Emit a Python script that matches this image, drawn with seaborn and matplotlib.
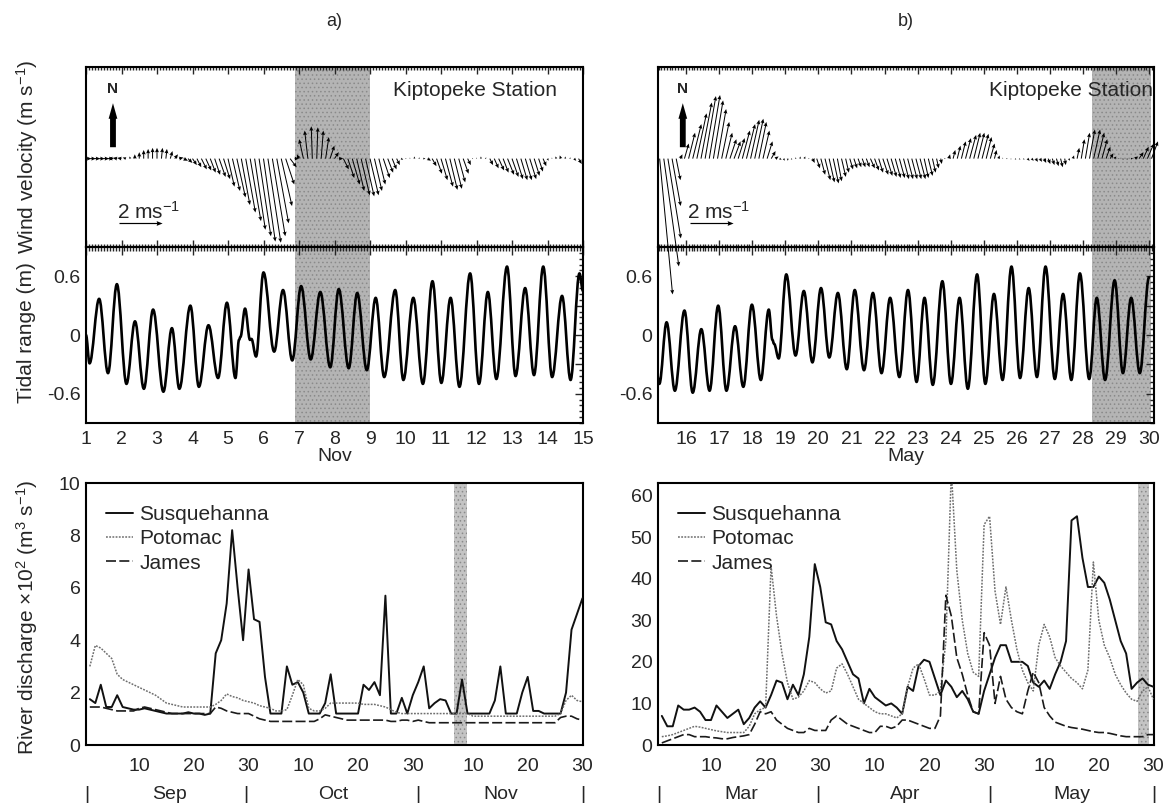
import numpy as np
import pandas as pd
import matplotlib
matplotlib.use("Agg")
import matplotlib.pyplot as plt
from matplotlib.path import Path
from matplotlib.patches import PathPatch, FancyArrowPatch
from matplotlib.ticker import MultipleLocator, FixedLocator, FixedFormatter, NullLocator
from matplotlib.transforms import blended_transform_factory
import seaborn as sns

sns.set_theme(style="white")
plt.rcParams["font.family"] = ["Liberation Sans", "DejaVu Sans"]
plt.rcParams["mathtext.fontset"] = "custom"
plt.rcParams["mathtext.rm"] = "Liberation Sans"
plt.rcParams["mathtext.it"] = "Liberation Sans:italic"
plt.rcParams["mathtext.bf"] = "Liberation Sans:bold"
plt.rcParams["hatch.linewidth"] = 0.6

# ---------------------------------------------------------------- data
# Wind at Kiptopeke, 3-hourly samples (east u, north v; m/s)
WIND_A_T0 = 1.0          # 1 Nov
WIND_A_U = [0.25, 0.25, 0.25, 0.25, 0.25, 0.25, -0.2, -0.2,
            -0.2, -0.15, -0.05, 0.0, 0.0, 0.0, 0.0, 0.0,
            0.0, 0.05, 0.05, 0.1, 0.15, 0.2, 0.2, 0.2,
            0.2, 0.2, 0.25, 0.25, 0.25, 0.25, 0.3, 0.3,
            0.3, 0.35, 0.4, 0.4, 0.45, 0.5, 0.5, 0.55,
            0.55, 0.6, 0.6, 0.55, 0.5, 0.4, 0.3, 0.2,
            -0.1, -0.2, -0.15, -0.05, 0.05, 0.1, 0.15, 0.2,
            0.2, 0.2, 0.25, 0.3, 0.35, 0.35, 0.4, 0.4,
            0.4, 0.35, 0.3, 0.3, 0.25, 0.2, 0.15, 0.1,
            0.05, 0.0, 0.0, 0.05, 0.1, 0.15, 0.2, 0.25,
            0.3, 0.35, 0.35, 0.35, 0.3, 0.25, 0.15, 0.05,
            0.0, 0.0, 0.05, 0.15, 0.2, 0.25, 0.25, 0.3,
            0.3, 0.3, 0.3, 0.3, 0.3, 0.25, 0.2, 0.15,
            0.05, 0.0, -0.05, -0.05, 0.0, 0.05, 0.1, 0.15,
            0.2]
WIND_A_V = [0.0, 0.0, 0.0, 0.0, 0.0, 0.0, 0.02, 0.03,
            0.03, 0.05, 0.1, 0.2, 0.3, 0.4, 0.45, 0.5,
            0.5, 0.5, 0.45, 0.35, 0.2, 0.05, -0.1, -0.2,
            -0.3, -0.4, -0.5, -0.55, -0.65, -0.75, -0.85, -0.95,
            -1.3, -1.5, -1.8, -2.15, -2.5, -2.9, -3.3, -3.6,
            -3.85, -3.9, -3.6, -3.0, -2.2, -1.2, -0.4, 0.0,
            0.2, 0.9, 1.3, 1.5, 1.45, 1.3, 1.0, 0.6,
            0.3, 0.0, -0.5, -0.9, -1.2, -1.5, -1.7, -1.75,
            -1.7, -1.5, -1.2, -0.9, -0.65, -0.5, -0.3, -0.05,
            0.0, 0.05, 0.1, 0.05, 0.0, -0.1, -0.35, -0.7,
            -1.0, -1.3, -1.45, -1.4, -1.1, -0.7, -0.3, 0.0,
            0.05, 0.1, 0.05, -0.3, -0.45, -0.55, -0.65, -0.75,
            -0.85, -0.95, -1.0, -1.0, -0.95, -0.8, -0.6, -0.35,
            -0.1, 0.05, 0.1, 0.15, 0.1, 0.05, -0.1, -0.25,
            -0.4]

WIND_B_T0 = 15.2         # 15 May
WIND_B_U = [0.6, 0.7, 0.6, 0.4, 0.2, 0.1,
            0.2, 0.3, 0.4, 0.45, 0.5, 0.5, 0.5, 0.45,
            0.4, 0.35, 0.3, 0.3, 0.3, 0.3, 0.35, 0.4,
            0.4, 0.4, 0.35, 0.3, 0.25, 0.2, 0.15, 0.1,
            0.05, 0.0, -0.05, -0.05, 0.0, 0.05, 0.05, 0.1,
            0.15, 0.2, 0.25, 0.25, 0.25, 0.2, 0.2, 0.15,
            0.15, 0.15, 0.15, 0.15, 0.15, 0.2, 0.2, 0.2,
            0.25, 0.25, 0.25, 0.25, 0.25, 0.25, 0.25, 0.25,
            0.25, 0.25, 0.2, 0.2, 0.15, 0.1, 0.05, 0.0,
            0.05, 0.1, 0.15, 0.2, 0.25, 0.3, 0.3, 0.3,
            0.3, 0.25, 0.2, 0.1, 0.05, 0.0, 0.0, 0.0,
            0.05, 0.05, 0.05, 0.1, 0.1, 0.1, 0.1, 0.1,
            0.1, 0.1, 0.1, 0.1, 0.05, 0.05, 0.05, 0.1,
            0.15, 0.2, 0.25, 0.3, 0.3, 0.25, 0.2, 0.15,
            0.1, 0.05, 0.05, 0.05, 0.1, 0.15, 0.2, 0.25,
            0.3, 0.3]
WIND_B_V = [-6.3, -5.0, -3.7, -2.2, -1.0, 0.2,
            0.7, 1.2, 1.6, 2.1, 2.6, 2.9, 2.95, 2.7,
            2.3, 1.7, 1.2, 0.9, 0.8, 0.95, 1.3, 1.6,
            1.8, 1.85, 1.7, 1.3, 0.8, 0.35, 0.1, -0.05,
            -0.1, -0.1, -0.05, 0.05, 0.1, 0.1, 0.0, -0.2,
            -0.45, -0.75, -1.0, -1.1, -1.15, -1.05, -0.85, -0.65,
            -0.5, -0.45, -0.4, -0.4, -0.4, -0.45, -0.55, -0.65,
            -0.75, -0.8, -0.85, -0.9, -0.9, -0.95, -0.95, -0.95,
            -0.95, -0.95, -0.9, -0.8, -0.65, -0.45, -0.25, 0.0,
            0.2, 0.4, 0.6, 0.8, 0.95, 1.1, 1.2, 1.2,
            1.15, 1.0, 0.7, 0.4, 0.15, 0.05, 0.0, -0.05,
            -0.05, -0.05, -0.05, -0.1, -0.1, -0.15, -0.15, -0.2,
            -0.25, -0.3, -0.35, -0.4, -0.3, -0.1, 0.15, 0.5,
            0.9, 1.2, 1.35, 1.35, 1.2, 0.9, 0.55, 0.25,
            0.1, 0.0, -0.05, -0.05, 0.0, 0.1, 0.3, 0.55,
            0.7, 0.8]

# Water level: successive high / low waters (day of month, m)
TIDE_A_T = [1.00, 1.10, 1.37, 1.62, 1.87, 2.14, 2.38, 2.63, 2.89, 3.18,
            3.42, 3.63, 3.94, 4.18, 4.45, 4.72, 4.97, 5.21, 5.31, 5.35,
            5.48, 5.62, 5.66, 5.79, 6.00, 6.30, 6.55, 6.81, 7.06, 7.33,
            7.60, 7.88, 8.12, 8.40, 8.64, 8.91, 9.16, 9.40, 9.71, 9.94,
            10.22, 10.49, 10.76, 11.01, 11.27, 11.52, 11.82, 12.07, 12.32, 12.56,
            12.86, 13.10, 13.37, 13.62, 13.88, 14.13, 14.41, 14.65, 14.90, 15.00]
TIDE_A_H = [0.00, -0.29, 0.37, -0.39, 0.52, -0.50, 0.14, -0.55, 0.26, -0.58,
            0.07, -0.55, 0.30, -0.53, 0.10, -0.44, 0.33, -0.44, -0.05, -0.02,
            0.27, -0.05, -0.04, -0.22, 0.64, -0.17, 0.46, -0.26, 0.50, -0.25,
            0.44, -0.33, 0.47, -0.34, 0.43, -0.36, 0.38, -0.43, 0.46, -0.46,
            0.38, -0.50, 0.55, -0.49, 0.38, -0.53, 0.63, -0.50, 0.44, -0.45,
            0.70, -0.42, 0.48, -0.41, 0.70, -0.43, 0.40, -0.46, 0.63, 0.45]
TIDE_B_T = [15.12, 15.19, 15.41, 15.66, 15.95, 16.20, 16.46, 16.71, 16.97, 17.22,
            17.48, 17.73, 17.99, 18.26, 18.50, 18.61, 18.66, 18.80, 19.03, 19.31,
            19.56, 19.82, 20.08, 20.33, 20.59, 20.86, 21.10, 21.38, 21.65, 21.91,
            22.17, 22.45, 22.71, 22.97, 23.21, 23.46, 23.75, 24.01, 24.27, 24.52,
            24.80, 25.05, 25.31, 25.57, 25.84, 26.10, 26.36, 26.61, 26.87, 27.15,
            27.40, 27.65, 27.91, 28.19, 28.42, 28.67, 28.96, 29.21, 29.46, 29.72,
            30.00]
TIDE_B_H = [-0.40, -0.50, 0.13, -0.57, 0.25, -0.59, 0.06, -0.57, 0.30, -0.57,
            0.09, -0.53, 0.31, -0.46, 0.26, -0.05, -0.09, -0.24, 0.62, -0.21,
            0.45, -0.28, 0.48, -0.23, 0.43, -0.35, 0.46, -0.36, 0.43, -0.39,
            0.38, -0.43, 0.46, -0.48, 0.38, -0.51, 0.55, -0.50, 0.38, -0.55,
            0.62, -0.50, 0.42, -0.46, 0.70, -0.44, 0.48, -0.43, 0.70, -0.45,
            0.42, -0.46, 0.63, -0.45, 0.38, -0.46, 0.56, -0.39, 0.38, -0.39,
            0.59]

EVENT_A = (6.9, 9.0)
EVENT_B = (28.27, 30.05)
DAYS_A = list(range(1, 16))
DAYS_B = list(range(16, 31))

# Daily river discharge, day 1 = first day of the three-month window
Q_DAY = list(range(1, 92))
QA_SUSQ = [1.75, 1.6, 2.3, 1.45, 1.45, 1.9, 1.45, 1.4, 1.35, 1.35,
           1.4, 1.35, 1.3, 1.25, 1.2, 1.2, 1.2, 1.2, 1.25, 1.2,
           1.2, 1.15, 1.2, 3.5, 4.0, 5.4, 8.2, 6.0, 4.0, 6.7,
           4.8, 4.7, 2.6, 1.2, 1.2, 1.2, 3.0, 2.3, 2.4, 2.0,
           1.2, 1.2, 1.2, 1.6, 2.7, 1.2, 1.2, 1.2, 1.2, 1.2,
           2.3, 2.1, 2.4, 1.9, 5.7, 1.2, 1.2, 1.8, 1.2, 1.9,
           2.4, 3.0, 1.4, 1.6, 1.75, 1.7, 1.2, 1.2, 2.5, 1.2,
           1.2, 1.2, 1.2, 1.2, 1.7, 3.0, 1.2, 1.2, 1.2, 2.0,
           2.6, 1.3, 1.3, 1.2, 1.2, 1.2, 1.2, 2.0, 4.4, 5.0,
           5.6]
QA_POTO = [3.0, 3.8, 3.7, 3.5, 3.3, 2.7, 2.5, 2.4, 2.3, 2.2,
           2.1, 2.0, 1.9, 1.75, 1.6, 1.55, 1.5, 1.45, 1.45, 1.45,
           1.45, 1.45, 1.45, 1.55, 1.7, 1.95, 1.85, 1.8, 1.7, 1.65,
           1.6, 1.5, 1.45, 1.4, 1.3, 1.3, 1.35, 1.9, 2.5, 2.3,
           1.4, 1.3, 1.3, 1.4, 1.6, 1.6, 1.6, 1.6, 1.6, 1.6,
           1.55, 1.55, 1.55, 1.5, 1.45, 1.35, 1.25, 1.2, 1.2, 1.2,
           1.2, 1.2, 1.2, 1.2, 1.2, 1.2, 1.2, 1.2, 1.2, 1.2,
           1.1, 1.1, 1.1, 1.1, 1.1, 1.1, 1.1, 1.1, 1.1, 1.1,
           1.1, 1.1, 1.1, 1.1, 1.1, 1.1, 1.2, 1.7, 1.9, 1.7,
           1.65]
QA_JAMES = [1.45, 1.45, 1.45, 1.4, 1.35, 1.3, 1.3, 1.3, 1.3, 1.4,
            1.45, 1.4, 1.35, 1.3, 1.25, 1.2, 1.2, 1.2, 1.2, 1.2,
            1.2, 1.2, 1.2, 1.45, 1.4, 1.3, 1.25, 1.2, 1.2, 1.2,
            1.1, 1.0, 0.95, 0.9, 0.9, 0.9, 0.9, 0.9, 0.9, 0.9,
            0.9, 0.9, 1.0, 1.15, 1.1, 1.05, 1.0, 0.95, 0.95, 0.95,
            0.95, 0.95, 0.95, 0.95, 0.95, 0.9, 0.9, 0.95, 0.95, 0.9,
            0.95, 0.9, 0.85, 0.85, 0.85, 0.85, 0.85, 0.85, 0.85, 0.85,
            0.85, 0.85, 0.85, 0.85, 0.85, 0.85, 0.85, 0.85, 0.85, 0.85,
            0.85, 0.85, 0.85, 0.85, 0.85, 0.85, 1.05, 1.1, 1.1, 1.0,
            0.95]
QB_SUSQ = [7.0, 4.5, 4.5, 9.5, 8.5, 8.5, 9.0, 8.0, 6.0, 6.0,
           9.5, 8.0, 6.5, 7.5, 8.5, 5.0, 6.5, 9.0, 10.5, 9.0,
           12.0, 15.5, 15.0, 11.0, 14.5, 12.0, 17.0, 26.0, 43.5, 38.0,
           29.5, 29.0, 25.0, 23.0, 20.0, 17.0, 16.0, 10.0, 13.5, 11.5,
           10.5, 9.5, 10.0, 9.0, 7.5, 14.0, 13.0, 19.0, 20.5, 20.0,
           16.0, 12.0, 15.5, 14.0, 11.5, 13.0, 11.0, 8.0, 7.5, 13.0,
           17.0, 21.0, 24.0, 24.0, 20.0, 20.0, 20.0, 19.0, 15.0, 14.0,
           15.5, 13.5, 17.0, 20.0, 25.0, 54.0, 55.0, 45.0, 38.0, 38.0,
           40.5, 39.0, 35.0, 30.0, 25.0, 22.0, 13.5, 15.0, 16.0, 14.5,
           14.0]
QB_POTO = [2.0, 2.2, 2.5, 3.0, 3.5, 4.0, 4.5, 4.3, 4.0, 3.7,
           3.4, 3.2, 3.0, 3.0, 3.0, 3.0, 4.5, 7.5, 8.5, 9.0,
           43.0, 31.0, 22.0, 15.0, 11.0, 11.5, 13.0, 15.5, 15.0, 13.5,
           12.5, 13.0, 18.5, 19.5, 17.0, 14.0, 11.0, 10.0, 9.0, 8.0,
           7.5, 7.5, 7.0, 6.5, 7.5, 14.0, 18.5, 19.5, 16.0, 12.0,
           12.0, 13.0, 25.0, 66.0, 42.0, 30.0, 22.0, 17.5, 16.5, 53.0,
           55.0, 37.0, 29.0, 38.0, 30.0, 23.0, 18.0, 15.0, 13.0, 24.0,
           29.0, 26.0, 21.0, 19.0, 17.5, 16.0, 15.0, 13.5, 18.0, 44.0,
           30.0, 24.0, 21.0, 17.0, 14.5, 12.5, 11.0, 10.5, 13.0, 14.0,
           11.0]
QB_JAMES = [0.5, 1.0, 1.5, 2.0, 2.5, 2.5, 2.0, 2.0, 2.0, 1.8,
            1.7, 1.5, 1.5, 1.8, 2.0, 2.2, 2.5, 5.0, 8.0, 7.5,
            8.0, 6.0, 5.0, 4.0, 3.5, 3.0, 3.0, 4.0, 3.5, 3.5,
            3.5, 6.0, 7.0, 6.0, 5.0, 4.5, 4.0, 3.5, 3.0, 3.0,
            4.5, 4.5, 4.0, 4.5, 6.0, 6.0, 5.5, 5.0, 4.5, 4.0,
            4.0, 7.0, 36.0, 31.0, 21.0, 17.0, 12.0, 8.0, 7.5, 27.0,
            24.0, 10.0, 16.5, 11.0, 9.0, 8.0, 7.5, 13.0, 17.5, 15.0,
            9.0, 7.0, 5.5, 5.0, 4.5, 4.2, 4.0, 3.8, 3.5, 3.2,
            3.0, 3.0, 2.8, 2.5, 2.2, 2.0, 2.0, 2.0, 2.0, 2.5,
            2.5]
RIVERS = ["Susquehanna", "Potomac", "James"]
Q_EVENT_A = (67.6, 69.9)
Q_EVENT_B = (88.2, 90.1)
Q_TICKS = [10, 20, 30, 40, 50, 60, 71, 81, 91]
Q_TICK_LABELS = ["10", "20", "30", "10", "20", "30", "10", "20", "30"]
MONTH_SEP = [0.5, 29.5, 61.0, 91.0]
MONTH_MID = [15.5, 45.5, 76.0]
MONTHS_A = ["Sep", "Oct", "Nov"]
MONTHS_B = ["Mar", "Apr", "May"]

# ---------------------------------------------------------------- style
SHADE = "#b4b4b4"
SHADE_HATCH = "#8a8a8a"
SHADE_Q = "#c4c4c4"
FS_TICK = 14
FS_TEXT = 15
SPINE_W = 1.5

W, H = 1169, 805
fig = plt.figure(figsize=(W / 100, H / 100), dpi=100)
fig.patch.set_facecolor("white")


def px_box(x0, x1, y0, y1):
    return [x0 / W, 1 - y1 / H, (x1 - x0) / W, (y1 - y0) / H]


COLS = [(86, 583), (658, 1154)]
ROW_WIND = (67, 247)
ROW_TIDE = (247, 423)
ROW_Q = (483, 745)


def frame(ax):
    for s in ax.spines.values():
        s.set_linewidth(SPINE_W)
        s.set_color("black")
        s.set_visible(True)
    ax.set_facecolor("white")
    ax.grid(False)


def shade(ax, span, color):
    ax.axvspan(*span, facecolor=color, edgecolor=SHADE_HATCH, hatch="....",
               lw=0, zorder=0)


def tide_path(t, h, c=0.36):
    verts = [(t[0], h[0])]
    codes = [Path.MOVETO]
    for i in range(len(t) - 1):
        dt = t[i + 1] - t[i]
        verts += [(t[i] + c * dt, h[i]), (t[i + 1] - c * dt, h[i + 1]), (t[i + 1], h[i + 1])]
        codes += [Path.CURVE4] * 3
    return Path(verts, codes)


def wind_panel(ax, t0, u, v, xlim, event, n_x, ref_x, txt_x, station_x, station_ha, overflow):
    frame(ax)
    ax.set_xlim(*xlim)
    ax.set_ylim(-4.1, 4.25)
    shade(ax, event, SHADE)
    t = t0 + np.arange(len(u)) / 8.0
    q = ax.quiver(t, np.zeros(len(t)), np.asarray(u), np.asarray(v),
                  angles="uv", scale_units="y", scale=1, units="dots",
                  width=1.0, headwidth=4, headlength=4.5, headaxislength=4,
                  color="black", pivot="tail", zorder=3)
    q.set_clip_on(not overflow)
    # north marker
    ax.add_patch(FancyArrowPatch((n_x, 0.4), (n_x, 2.7),
                                 arrowstyle="simple,head_length=0.8,head_width=0.45,tail_width=0.3",
                                 mutation_scale=14, color="black", lw=0, zorder=4))
    ax.text(n_x, 3.25, "N", ha="center", va="center", fontsize=11, fontweight="bold")
    # scale arrow
    ax.quiver([ref_x], [-3.0], [2.0], [0.0], angles="uv", scale_units="y", scale=1,
              units="dots", width=1.2, headwidth=4, headlength=5, headaxislength=4.5,
              color="black", zorder=4)
    ax.text(txt_x, -2.45, "2 ms$^{-1}$", ha="left", va="center", fontsize=FS_TEXT)
    ax.text(station_x, 3.15, "Kiptopeke Station", ha=station_ha, va="center",
            fontsize=FS_TEXT, clip_on=True)
    ax.xaxis.set_major_locator(MultipleLocator(1))
    ax.xaxis.set_minor_locator(MultipleLocator(1 / 12))
    ax.yaxis.set_major_locator(NullLocator())
    ax.tick_params(axis="x", which="both", direction="in", top=True, bottom=True,
                   labelbottom=False, width=1.0)
    ax.tick_params(axis="x", which="major", length=5)
    ax.tick_params(axis="x", which="minor", length=2.5)


def tide_panel(ax, t, h, xlim, event, days, month):
    frame(ax)
    ax.set_xlim(*xlim)
    ax.set_ylim(-0.9, 0.9)
    shade(ax, event, SHADE)
    ax.add_patch(PathPatch(tide_path(t, h), facecolor="none", edgecolor="black",
                           lw=1.9, joinstyle="round", capstyle="round", zorder=3))
    ax.xaxis.set_major_locator(FixedLocator(days))
    ax.xaxis.set_major_formatter(FixedFormatter([str(d) for d in days]))
    ax.xaxis.set_minor_locator(MultipleLocator(1 / 12))
    ax.yaxis.set_major_locator(FixedLocator([-0.6, -0.3, 0, 0.3, 0.6]))
    ax.yaxis.set_major_formatter(FixedFormatter(["-0.6", "", "0", "", "0.6"]))
    ax.yaxis.set_minor_locator(MultipleLocator(0.06))
    ax.tick_params(which="both", direction="in", top=True, right=True, width=1.0,
                   labelsize=FS_TICK)
    ax.tick_params(which="major", length=6)
    ax.tick_params(which="minor", length=3)
    ax.tick_params(axis="x", pad=6)
    ax.tick_params(axis="y", pad=4)
    ax.set_xlabel(month, fontsize=FS_TICK, labelpad=0)


def river_panel(ax, s, p, j, ylim, ymajor, yminor, event, months):
    frame(ax)
    shade(ax, event, SHADE_Q)
    df = pd.DataFrame({"day": Q_DAY * 3,
                       "q": list(s) + list(p) + list(j),
                       "river": [RIVERS[0]] * 91 + [RIVERS[1]] * 91 + [RIVERS[2]] * 91})
    styles = {"Susquehanna": dict(color="#111111", lw=1.4, dashes=(None, None)),
              "Potomac": dict(color="#6e6e6e", lw=1.1, dashes=(1.2, 0.9)),
              "James": dict(color="#1a1a1a", lw=1.2, dashes=(6, 2))}
    handles = []
    for name in RIVERS:
        st = styles[name]
        sns.lineplot(data=df[df["river"] == name], x="day", y="q", ax=ax,
                     color=st["color"], lw=st["lw"], legend=False, zorder=3)
        line = ax.lines[-1]
        if st["dashes"][0] is not None:
            line.set_dashes(st["dashes"])
        handles.append(line)
    ax.set_xlim(0.3, 91.1)
    ax.set_ylim(*ylim)
    ax.set_xlabel("")
    ax.set_ylabel("")
    ax.xaxis.set_major_locator(FixedLocator(Q_TICKS))
    ax.xaxis.set_major_formatter(FixedFormatter(Q_TICK_LABELS))
    ax.xaxis.set_minor_locator(MultipleLocator(1))
    ax.yaxis.set_major_locator(MultipleLocator(ymajor))
    ax.yaxis.set_minor_locator(MultipleLocator(yminor))
    ax.tick_params(which="both", direction="in", top=False, right=False, width=1.0,
                   labelsize=FS_TICK)
    ax.tick_params(which="major", length=7)
    ax.tick_params(which="minor", length=3)
    ax.tick_params(axis="x", pad=9)
    ax.tick_params(axis="y", pad=4)
    ax.legend(handles, RIVERS, loc="upper left", bbox_to_anchor=(0.04, 0.915),
              frameon=False, fontsize=FS_TEXT, handlelength=1.3, handletextpad=0.3,
              labelspacing=0.25, borderpad=0, borderaxespad=0)
    tr = blended_transform_factory(ax.transData, ax.transAxes)
    for xs in MONTH_SEP:
        ax.text(xs, -0.19, "|", transform=tr, ha="center", va="center", fontsize=FS_TICK)
    for xm, m in zip(MONTH_MID, months):
        ax.text(xm, -0.19, m, transform=tr, ha="center", va="center", fontsize=FS_TICK)


# ---------------------------------------------------------------- panels
ax_ta = fig.add_axes(px_box(COLS[0][0], COLS[0][1], *ROW_TIDE))
ax_tb = fig.add_axes(px_box(COLS[1][0], COLS[1][1], *ROW_TIDE))
ax_wa = fig.add_axes(px_box(COLS[0][0], COLS[0][1], *ROW_WIND))
ax_wb = fig.add_axes(px_box(COLS[1][0], COLS[1][1], *ROW_WIND))
ax_qa = fig.add_axes(px_box(COLS[0][0], COLS[0][1], *ROW_Q))
ax_qb = fig.add_axes(px_box(COLS[1][0], COLS[1][1], *ROW_Q))
for axw in (ax_wa, ax_wb):
    axw.set_zorder(5)
    axw.patch.set_visible(False)

XLIM_A = (1.0, 15.0)
XLIM_B = (15.15, 30.15)

wind_panel(ax_wa, WIND_A_T0, WIND_A_U, WIND_A_V, XLIM_A, EVENT_A,
           n_x=1.76, ref_x=1.93, txt_x=1.87, station_x=14.26, station_ha="right",
           overflow=False)
wind_panel(ax_wb, WIND_B_T0, WIND_B_U, WIND_B_V, XLIM_B, EVENT_B,
           n_x=15.9, ref_x=16.12, txt_x=16.03, station_x=25.15, station_ha="left",
           overflow=True)

tide_panel(ax_ta, TIDE_A_T, TIDE_A_H, XLIM_A, EVENT_A, DAYS_A, "Nov")
tide_panel(ax_tb, TIDE_B_T, TIDE_B_H, XLIM_B, EVENT_B, DAYS_B, "May")

river_panel(ax_qa, QA_SUSQ, QA_POTO, QA_JAMES, (0, 10), 2, 0.5, Q_EVENT_A, MONTHS_A)
river_panel(ax_qb, QB_SUSQ, QB_POTO, QB_JAMES, (0, 63), 10, 5, Q_EVENT_B, MONTHS_B)

# ---------------------------------------------------------------- labels
fig.text(334 / W, 1 - 22 / H, "a)", ha="center", va="center", fontsize=13)
fig.text(906 / W, 1 - 22 / H, "b)", ha="center", va="center", fontsize=13)
fig.text(27 / W, 1 - 157 / H, "Wind velocity (m s$^{-1}$)", rotation=90,
         ha="center", va="center", fontsize=FS_TEXT)
fig.text(27 / W, 1 - 333 / H, "Tidal range (m)", rotation=90,
         ha="center", va="center", fontsize=FS_TEXT)
fig.text(27 / W, 1 - 617 / H, "River discharge \u00d710$^{2}$ (m$^{3}$ s$^{-1}$)",
         rotation=90, ha="center", va="center", fontsize=FS_TEXT)

fig.savefig("out.png", dpi=100, facecolor="white")
